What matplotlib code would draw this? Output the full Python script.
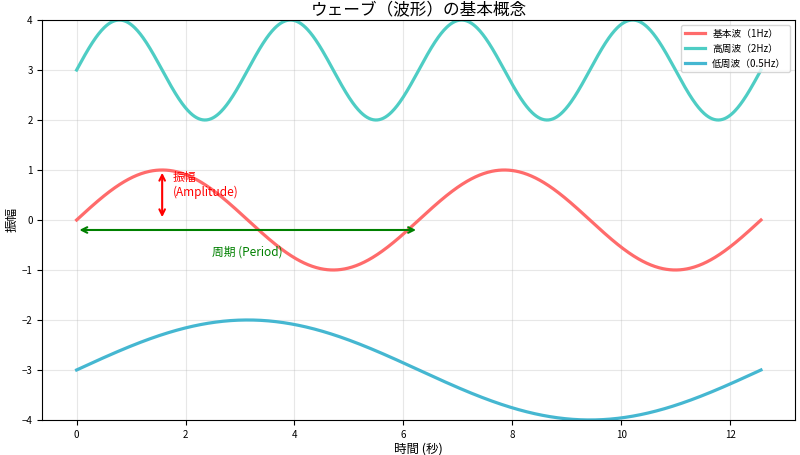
import numpy as np
import matplotlib
matplotlib.use("Agg")
import matplotlib.pyplot as plt

plt.rcParams["font.family"] = ["Noto Sans CJK JP", "DejaVu Sans"]

labels = ["基本波（1Hz）", "高周波（2Hz）", "低周波（0.5Hz）"]
freqs = [1.0, 2.0, 0.5]
offsets = [0.0, 3.0, -3.0]
colors = ["#FF6B6B", "#4ECDC4", "#45B7D1"]

x = np.linspace(0, 4 * np.pi, 1000)

fig, ax = plt.subplots(figsize=(8, 4.55), dpi=100)
for lab, f, o, c in zip(labels, freqs, offsets, colors):
    ax.plot(x, o + np.sin(f * x), color=c, lw=2.3, label=lab)

ax.annotate("", xy=(np.pi / 2, 1), xytext=(np.pi / 2, 0),
            arrowprops=dict(arrowstyle="<->", color="red", lw=1.5))
ax.text(np.pi / 2 + 0.2, 0.7, "振幅\n(Amplitude)", color="red", fontsize=8.5, va="center")
ax.annotate("", xy=(0, -0.2), xytext=(2 * np.pi, -0.2),
            arrowprops=dict(arrowstyle="<->", color="green", lw=1.5))
ax.text(np.pi, -0.65, "周期 (Period)", color="green", fontsize=8.5, ha="center", va="center")

ax.set_ylim(-4, 4)
ax.set_title("ウェーブ（波形）の基本概念", fontsize=12, pad=4)
ax.set_xlabel("時間 (秒)", fontsize=9, labelpad=2)
ax.set_ylabel("振幅", fontsize=9, labelpad=2)
ax.tick_params(labelsize=7)
ax.grid(True, alpha=0.3)
ax.legend(loc="upper right", fontsize=7)
fig.subplots_adjust(left=0.053, right=0.994, top=0.956, bottom=0.077)
fig.savefig("out.png")
